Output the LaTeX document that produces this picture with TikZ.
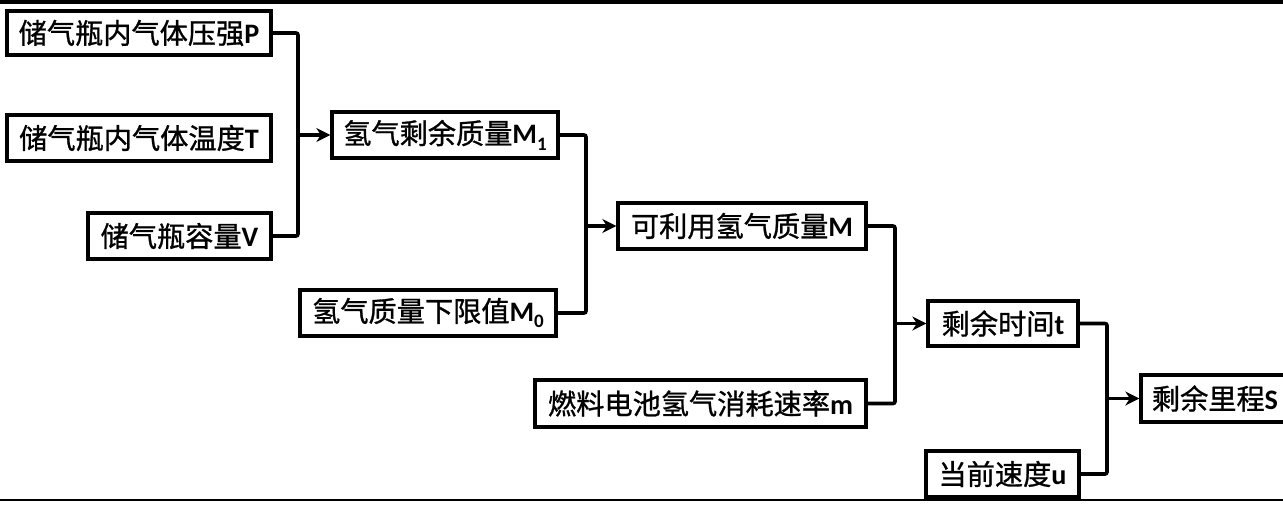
\documentclass[tikz,border=0pt]{standalone}
\usepackage{fontspec}
\usetikzlibrary{arrows.meta}
\newfontfamily\cjk{Noto Sans CJK SC}[FakeBold=1.0]
\newfontfamily\lat{Carlito}
\newcommand{\lt}[1]{{\lat\bfseries #1}}
\newcommand{\sbs}[1]{\raisebox{-0.22em}{\fontsize{19}{19}\selectfont\lat\bfseries #1}}
\begin{document}
\begin{tikzpicture}[x=1pt,y=-1pt,
  box/.style={draw=black, line width=3.3pt, fill=white, inner sep=0pt, minimum height=46pt,
    font=\fontsize{28.2}{30}\selectfont\cjk},
  conn/.style={draw=black, line width=3.6pt, rounded corners=2pt},
  arr/.style={draw=black, line width=3.6pt, -{Stealth[length=14pt,width=14pt,inset=4.5pt]}}]
\useasboundingbox (0,0) rectangle (1283,504);
\fill[white] (0,0) rectangle (1283,504);
\fill[black] (0,0) rectangle (1283,4);
\draw[line width=2pt] (0,499.5) -- (1283,499.5);

\node[box, minimum width=264pt, minimum height=44pt] (p) at (139,33) {储气瓶内气体压强\lt{P}};
\node[box, minimum width=264pt] (tt) at (139,138) {储气瓶内气体温度\lt{T}};
\node[box, minimum width=183pt] (v) at (179.5,236) {储气瓶容量\lt{V}};
\node[box, minimum width=226pt] (m1) at (445,135) {氢气剩余质量\lt{M}\sbs{1}};
\node[box, minimum width=248pt] (mm) at (742,226) {可利用氢气质量\lt{M}};
\node[box, minimum width=256pt] (m0) at (428,313) {氢气质量下限值\lt{M}\sbs{0}};
\node[box, minimum width=331pt, minimum height=47pt] (rate) at (700.5,403.5) {燃料电池氢气消耗速率\lt{m}};
\node[box, minimum width=150pt, minimum height=45pt] (t) at (1003,323.5) {剩余时间\lt{t}};
\node[box, minimum width=153pt] (u) at (1002.5,474) {当前速度\lt{u}};
\node[box, minimum width=148pt, minimum height=47pt] (s) at (1215,398.5) {剩余里程\lt{S}};

\coordinate (j1) at (298,0);
\coordinate (j2) at (586,0);
\coordinate (j3) at (895,0);
\coordinate (j4) at (1107,0);

\draw[conn] (p.east) -| (j1 |- v.east) -- (v.east);
\draw[arr] (j1 |- m1.west) -- (m1.west);

\draw[conn] (m1.east) -| (j2 |- m0.east) -- (m0.east);
\draw[arr] (j2 |- mm.west) -- (mm.west);

\draw[conn] (mm.east) -| (j3 |- rate.east) -- (rate.east);
\draw[arr] (j3 |- t.west) -- (t.west);

\draw[conn] (t.east) -| (j4 |- u.east) -- (u.east);
\draw[arr] (j4 |- s.west) -- (s.west);
\end{tikzpicture}
\end{document}
